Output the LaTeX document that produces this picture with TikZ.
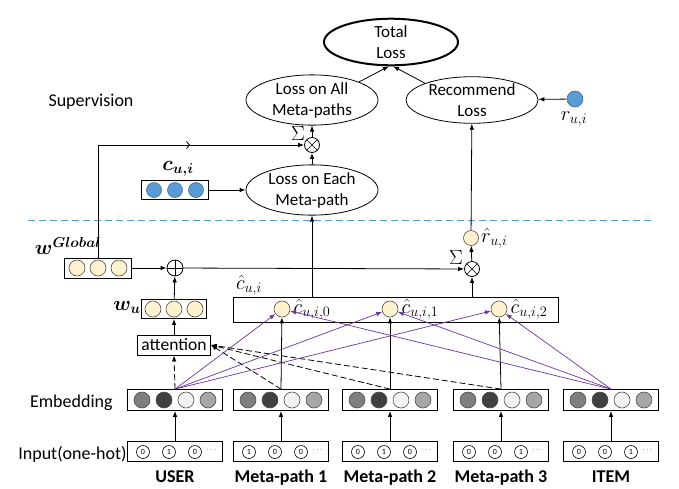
\RequirePackage{fix-cm}
\documentclass[tikz,border=0pt]{standalone}
\usepackage{amsmath}
\usepackage{bm}
\usepackage{fontspec}
\setmainfont{Carlito}
\usetikzlibrary{shapes.geometric,arrows.meta,decorations.markings}

\definecolor{embA}{HTML}{7F7F7F}
\definecolor{embB}{HTML}{404040}
\definecolor{embC}{HTML}{F2F2F2}
\definecolor{embD}{HTML}{A6A6A6}
\definecolor{cream}{HTML}{FFF2CC}
\definecolor{skyblue}{HTML}{5B9BD5}
\definecolor{deepblue}{HTML}{41719C}
\definecolor{mixpurple}{HTML}{7030A0}

\begin{document}
\begin{tikzpicture}
  [x=1pt,y=-1pt,line width=0.8pt,>={Latex[length=6pt,width=4.5pt]},
   every node/.style={inner sep=0pt},
   loss/.style={draw,ellipse,minimum width=132pt,minimum height=42pt,
                align=center,font=\fontsize{17}{21}\selectfont},
   vec/.style={draw,rectangle,minimum width=67pt,minimum height=20pt},
   emb/.style={draw,rectangle,minimum width=95pt,minimum height=21pt},
   inp/.style={draw,rectangle,minimum width=95pt,minimum height=20pt},
   ball/.style={draw=black!70,circle,minimum size=16pt,line width=0.6pt},
   bit/.style={draw,circle,minimum size=13pt,line width=0.6pt,
               font=\fontsize{8}{9}\selectfont},
   op/.style={draw,circle,minimum size=15pt,fill=white}]

  \tikzstyle{lbl}  = [font=\fontsize{18}{21}\selectfont]
  \tikzstyle{tag}  = [font=\fontsize{18}{21}\selectfont\bfseries,anchor=base]
  \tikzstyle{sym}  = [font=\fontsize{20.5}{23}\selectfont]
  \tikzstyle{dots} = [font=\fontsize{7}{8}\selectfont]
  \tikzstyle{otimes} = [op,path picture={\draw[line width=0.6pt]
      (path picture bounding box.north west) -- (path picture bounding box.south east)
      (path picture bounding box.north east) -- (path picture bounding box.south west);}]
  \tikzstyle{oplus} = [op,minimum size=16pt,path picture={\draw[line width=0.6pt]
      (path picture bounding box.north) -- (path picture bounding box.south)
      (path picture bounding box.west) -- (path picture bounding box.east);}]

  \useasboundingbox (0,0) rectangle (679,488);

  % supervision part
  \node[loss,line width=2pt,minimum width=134pt,minimum height=43pt] (total) at (391,42) {Total\\Loss};
  \node[loss] (lossall)  at (312,100) {Loss on All\\Meta-paths};
  \node[loss,minimum height=45pt] (recloss) at (472,100) {Recommend\\Loss};
  \node[loss] (losseach) at (312,190) {Loss on Each\\Meta-path};
  \node[ball,fill=skyblue,draw=deepblue] (rui) at (575,99) {};
  \node[sym] (ruil) at (574,119) {$r_{u,i}$};
  \node[otimes] (sumA) at (312,145) {};
  \node[sym] (sigA) at (298,133) {$\Sigma$};
  \node[lbl,anchor=base] (sup) at (91,106) {Supervision};

  \node[vec,minimum height=19pt] (cui) at (175,190) {};
  \node[ball,fill=skyblue,draw=deepblue,minimum size=15pt] (cui1) at (154,190) {};
  \node[ball,fill=skyblue,draw=deepblue,minimum size=15pt] (cui2) at (175,190) {};
  \node[ball,fill=skyblue,draw=deepblue,minimum size=15pt] (cui3) at (196,190) {};
  \node[sym] (cuil) at (178,169) {$\bm{c}_{\bm{u,i}}$};

  \coordinate (divL) at (28,220);
  \coordinate (divR) at (655,220);
  \draw[skyblue,line width=0.7pt,dash pattern=on 7pt off 4pt] (divL) -- (divR);

  % fusion part
  \node[vec] (wg) at (98,268) {};
  \node[ball,fill=cream] (wg1) at (77,268) {};
  \node[ball,fill=cream] (wg2) at (98,268) {};
  \node[ball,fill=cream] (wg3) at (119,268) {};
  \node[sym] (wgl) at (68,246) {$\bm{w}^{\bm{Global}}$};
  \node[oplus] (plus) at (175,268) {};

  \node[vec,minimum width=65pt,minimum height=19pt] (wu) at (174,309) {};
  \node[ball,fill=cream] (wu1) at (153,309) {};
  \node[ball,fill=cream] (wu2) at (174,309) {};
  \node[ball,fill=cream] (wu3) at (195,309) {};
  \node[sym] (wul) at (127,307) {$\bm{w}_{\bm{u}}$};
  \node[draw,minimum width=73pt,minimum height=20pt,
        font=\fontsize{17.5}{20}\selectfont] (att) at (174,345) {attention};

  \node[otimes] (sumB) at (472,269) {};
  \node[sym] (sigB) at (456,257) {$\Sigma$};
  \node[ball,fill=cream,minimum size=15pt] (rhat) at (471,238) {};
  \node[sym,anchor=west] (rhatl) at ([xshift=2pt]rhat.east) {$\hat{r}_{u,i}$};

  \node[draw,minimum width=325pt,minimum height=25pt] (chat) at (395.5,309.5) {};
  \node[sym] (chatl) at (249,285) {$\hat{c}_{u,i}$};
  \node[ball,fill=cream] (c0) at (282,309) {};
  \node[ball,fill=cream] (c1) at (390,309) {};
  \node[ball,fill=cream] (c2) at (499,309) {};
  \node[sym,anchor=west] (c0l) at ([xshift=3pt]c0.east) {$\hat{c}_{u,i,0}$};
  \node[sym,anchor=west] (c1l) at ([xshift=3pt]c1.east) {$\hat{c}_{u,i,1}$};
  \node[sym,anchor=west] (c2l) at ([xshift=3pt]c2.east) {$\hat{c}_{u,i,2}$};

  % embedding layer
  \node[lbl,anchor=base east] (embl) at (113,407) {Embedding};
  \node[emb] (eU) at (175,400) {};
  \node[emb] (e1) at (281,400) {};
  \node[emb] (e2) at (390,400) {};
  \node[emb] (e3) at (501,400) {};
  \node[emb] (eI) at (611,400) {};
  \node[ball,fill=embA] (eUa) at (142,400) {};
  \node[ball,fill=embB] (eUb) at (164,400) {};
  \node[ball,fill=embC] (eUc) at (186,400) {};
  \node[ball,fill=embD] (eUd) at (208,400) {};
  \node[ball,fill=embA] (e1a) at (248,400) {};
  \node[ball,fill=embB] (e1b) at (270,400) {};
  \node[ball,fill=embC] (e1c) at (292,400) {};
  \node[ball,fill=embD] (e1d) at (314,400) {};
  \node[ball,fill=embA] (e2a) at (357,400) {};
  \node[ball,fill=embB] (e2b) at (379,400) {};
  \node[ball,fill=embC] (e2c) at (401,400) {};
  \node[ball,fill=embD] (e2d) at (423,400) {};
  \node[ball,fill=embA] (e3a) at (468,400) {};
  \node[ball,fill=embB] (e3b) at (490,400) {};
  \node[ball,fill=embC] (e3c) at (512,400) {};
  \node[ball,fill=embD] (e3d) at (534,400) {};
  \node[ball,fill=embA] (eIa) at (578,400) {};
  \node[ball,fill=embB] (eIb) at (600,400) {};
  \node[ball,fill=embC] (eIc) at (622,400) {};
  \node[ball,fill=embD] (eId) at (644,400) {};

  % one-hot input
  \node[lbl,anchor=base east] (inpl) at (127,459) {Input(one-hot)};
  \node[inp] (iU) at (175,451.5) {};
  \node[inp] (i1) at (281,451.5) {};
  \node[inp] (i2) at (390,451.5) {};
  \node[inp] (i3) at (501,451.5) {};
  \node[inp] (iI) at (611,451.5) {};
  \node[bit] (iUa) at (143,452) {0};
  \node[bit] (iUb) at (169,452) {1};
  \node[bit] (iUc) at (195,452) {0};
  \node[dots] (iUd) at (212,450) {$\cdots$};
  \node[bit] (i1a) at (249,452) {1};
  \node[bit] (i1b) at (275,452) {0};
  \node[bit] (i1c) at (301,452) {0};
  \node[dots] (i1d) at (318,450) {$\cdots$};
  \node[bit] (i2a) at (358,452) {0};
  \node[bit] (i2b) at (384,452) {1};
  \node[bit] (i2c) at (410,452) {0};
  \node[dots] (i2d) at (427,450) {$\cdots$};
  \node[bit] (i3a) at (469,452) {0};
  \node[bit] (i3b) at (495,452) {0};
  \node[bit] (i3c) at (521,452) {1};
  \node[dots] (i3d) at (538,450) {$\cdots$};
  \node[bit] (iIa) at (579,452) {0};
  \node[bit] (iIb) at (605,452) {0};
  \node[bit] (iIc) at (631,452) {1};
  \node[dots] (iId) at (648,450) {$\cdots$};

  \node[tag] (nU) at (175,482) {USER};
  \node[tag] (n1) at (281,482) {Meta-path 1};
  \node[tag] (n2) at (390,482) {Meta-path 2};
  \node[tag] (n3) at (501,482) {Meta-path 3};
  \node[tag] (nI) at (611,482) {ITEM};

  % connectors
  \path[->]
        (lossall.north east) edge (total.265)
        (recloss.north west) edge (total.275)
        (sumA)               edge (lossall)
        (losseach)           edge (sumA)
        (cui)                edge (losseach)
        (rui)                edge (recloss)
        (rhat)               edge (recloss)
        (sumB)               edge (rhat)
        (losseach |- chat.north) edge (losseach)
        (sumB |- chat.north) edge (sumB)
        (wg)                 edge (plus)
        (plus)               edge (sumB)
        (wu)                 edge (plus)
        (att)                edge (wu)
        (e1.north)           edge (c0)
        (e2.north)           edge (c1)
        (e3.north)           edge (c2)
        (iU)                 edge (eU)
        (i1)                 edge (e1)
        (i2)                 edge (e2)
        (i3)                 edge (e3)
        (iI)                 edge (eI);

  \draw[->,postaction={decorate},decoration={markings,
        mark=at position 0.642 with {\arrow{Straight Barb[length=3pt,width=7pt]}}}]
        (wg.north) |- (sumA.west);

  \path[->,dashed,dash pattern=on 6pt off 3pt]
        (eU.north) edge (att.south)
        (e1.north) edge (att.east)
        (e2.north) edge (att.east)
        (e3.north) edge (att.east);

  \path[->,mixpurple,line width=0.7pt]
        (eU.north) edge (c0)
        (eU.north) edge (c1)
        (eU.north) edge (c2)
        (eI.north) edge (c0)
        (eI.north) edge (c1)
        (eI.north) edge (c2);
\end{tikzpicture}
\end{document}
